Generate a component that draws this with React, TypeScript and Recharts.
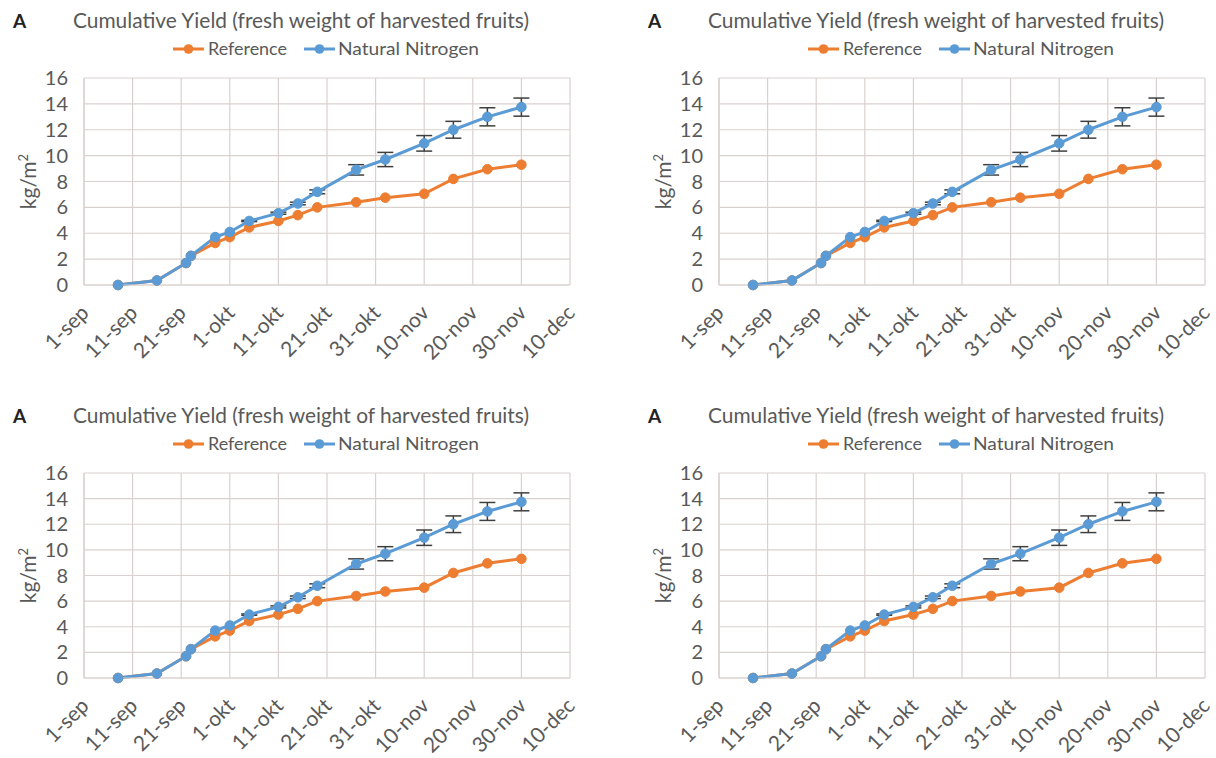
import React from "react";
import { LineChart, Line, XAxis, YAxis, CartesianGrid, ErrorBar } from "recharts";

// ---- data ----
// days counted from 1-sep
const harvestDays = [7, 15, 21, 22, 27, 30, 34, 40, 44, 48, 56, 62, 70, 76, 83, 90];
const referenceYield = [0, 0.35, 1.7, 2.25, 3.25, 3.7, 4.45, 4.95, 5.4, 6.0, 6.4, 6.75, 7.05, 8.2, 8.95, 9.3];
const naturalNitrogenYield = [0, 0.35, 1.7, 2.25, 3.7, 4.1, 4.95, 5.55, 6.3, 7.2, 8.9, 9.7, 10.95, 12.0, 13.0, 13.75];
const naturalNitrogenError = [0, 0, 0, 0, 0, 0, 0.05, 0.08, 0.1, 0.15, 0.4, 0.55, 0.6, 0.65, 0.7, 0.7];

const xTickDays = [0, 10, 20, 30, 40, 50, 60, 70, 80, 90, 100];
const xTickLabels = ["1-sep", "11-sep", "21-sep", "1-okt", "11-okt", "21-okt", "31-okt", "10-nov", "20-nov", "30-nov", "10-dec"];
const yTicks = [0, 2, 4, 6, 8, 10, 12, 14, 16];

const seriesNames = ["Reference", "Natural Nitrogen"];
const seriesColors = ["#ED7D31", "#5B9BD5"];

const titleText = "Cumulative Yield (fresh weight of harvested fruits)";
const panelLetter = "A";

const rows = harvestDays.map((d, i) => ({
  day: d,
  ref: referenceYield[i],
  nn: naturalNitrogenYield[i],
  nnErr: naturalNitrogenError[i],
}));

const FONT = "Lato, 'Open Sans', 'DejaVu Sans', sans-serif";
const TEXT = "#595959";
const GRID = "#d9d1cf";

const W = 610;
const H = 390;
const PLOT_LEFT = 84;
const PLOT_RIGHT = 570;
const X_AXIS_H = 70;

const XTick = (props: any) => {
  const { x, y, payload } = props;
  const idx = xTickDays.indexOf(payload.value);
  const label = idx >= 0 ? xTickLabels[idx] : String(payload.value);
  const ax = x + 1;
  const ay = y + 24;
  return (
    <text
      x={ax}
      y={ay}
      dy="0.35em"
      transform={`rotate(-45, ${ax}, ${ay})`}
      textAnchor="end"
      fill={TEXT}
      fontSize={21}
      fontFamily={FONT}
    >
      {label}
    </text>
  );
};

const YTick = (props: any) => {
  const { x, y, payload } = props;
  return (
    <text x={x} y={y} dy="0.35em" textAnchor="end" fill={TEXT} fontSize={20} fontFamily={FONT}>
      {payload.value}
    </text>
  );
};

function YieldChart({ ox, oy, plotTop, plotBottom }: { ox: number; oy: number; plotTop: number; plotBottom: number }) {
  const legendY = 49;
  const legendItems = [
    { x0: 173, tx: 208, tl: 79 },
    { x0: 304, tx: 338, tl: 141 },
  ];
  const midY = (plotTop + plotBottom) / 2;
  return (
    <div style={{ position: "absolute", left: ox, top: oy, width: W, height: H }}>
      <LineChart
        width={W}
        height={H}
        data={rows}
        margin={{ top: plotTop, right: W - PLOT_RIGHT, left: 30, bottom: H - plotBottom - X_AXIS_H }}
      >
        <CartesianGrid stroke={GRID} strokeWidth={1.2} />
        <XAxis
          dataKey="day"
          type="number"
          domain={[0, 100]}
          ticks={xTickDays}
          interval={0}
          tick={<XTick />}
          tickLine={false}
          tickSize={0}
          tickMargin={0}
          axisLine={{ stroke: GRID, strokeWidth: 1.2 }}
          height={X_AXIS_H}
        />
        <YAxis
          type="number"
          domain={[0, 16]}
          ticks={yTicks}
          interval={0}
          tick={<YTick />}
          tickLine={false}
          tickSize={0}
          tickMargin={16}
          axisLine={{ stroke: GRID, strokeWidth: 1.2 }}
          width={PLOT_LEFT - 30}
        />
        <Line
          dataKey="ref"
          name={seriesNames[0]}
          stroke={seriesColors[0]}
          strokeWidth={3}
          dot={{ r: 4.8, fill: seriesColors[0], stroke: seriesColors[0], strokeWidth: 1 }}
          isAnimationActive={false}
        />
        <Line
          dataKey="nn"
          name={seriesNames[1]}
          stroke={seriesColors[1]}
          strokeWidth={3}
          dot={{ r: 4.8, fill: seriesColors[1], stroke: seriesColors[1], strokeWidth: 1 }}
          isAnimationActive={false}
        >
          <ErrorBar dataKey="nnErr" width={8} strokeWidth={1.5} stroke="#3f3f3f" direction="y" />
        </Line>
      </LineChart>
      <svg width={W} height={H} style={{ position: "absolute", left: 0, top: 0, pointerEvents: "none" }}>
        <text x={13} y={21} dy="0.35em" fontSize={19} fontWeight="bold" fill="#222" fontFamily={FONT}>
          {panelLetter}
        </text>
        <text
          x={73}
          y={21}
          dy="0.35em"
          fontSize={21}
          fill={TEXT}
          fontFamily={FONT}
          textLength={456}
          lengthAdjust="spacingAndGlyphs"
        >
          {titleText}
        </text>
        {seriesNames.map((name, i) => (
          <g key={name}>
            <line x1={legendItems[i].x0} x2={legendItems[i].x0 + 31} y1={legendY} y2={legendY} stroke={seriesColors[i]} strokeWidth={3} />
            <circle cx={legendItems[i].x0 + 15.5} cy={legendY} r={4.8} fill={seriesColors[i]} />
            <text
              x={legendItems[i].tx}
              y={legendY}
              dy="0.35em"
              fontSize={18}
              fill={TEXT}
              fontFamily={FONT}
              textLength={legendItems[i].tl}
              lengthAdjust="spacingAndGlyphs"
            >
              {name}
            </text>
          </g>
        ))}
        <text
          x={36}
          y={midY}
          transform={`rotate(-90, 36, ${midY})`}
          textAnchor="middle"
          fontSize={21}
          fill={TEXT}
          fontFamily={FONT}
        >
          <tspan>kg/m</tspan>
          <tspan dy={-8} fontSize={13}>2</tspan>
        </text>
      </svg>
    </div>
  );
}

export default function App() {
  return (
    <div style={{ position: "absolute", left: 0, top: 0, width: 1216, height: 758, background: "#fff" }}>
      <YieldChart ox={0} oy={0} plotTop={78} plotBottom={285} />
      <YieldChart ox={635} oy={0} plotTop={78} plotBottom={285} />
      <YieldChart ox={0} oy={395} plotTop={78} plotBottom={283} />
      <YieldChart ox={635} oy={395} plotTop={78} plotBottom={283} />
    </div>
  );
}
